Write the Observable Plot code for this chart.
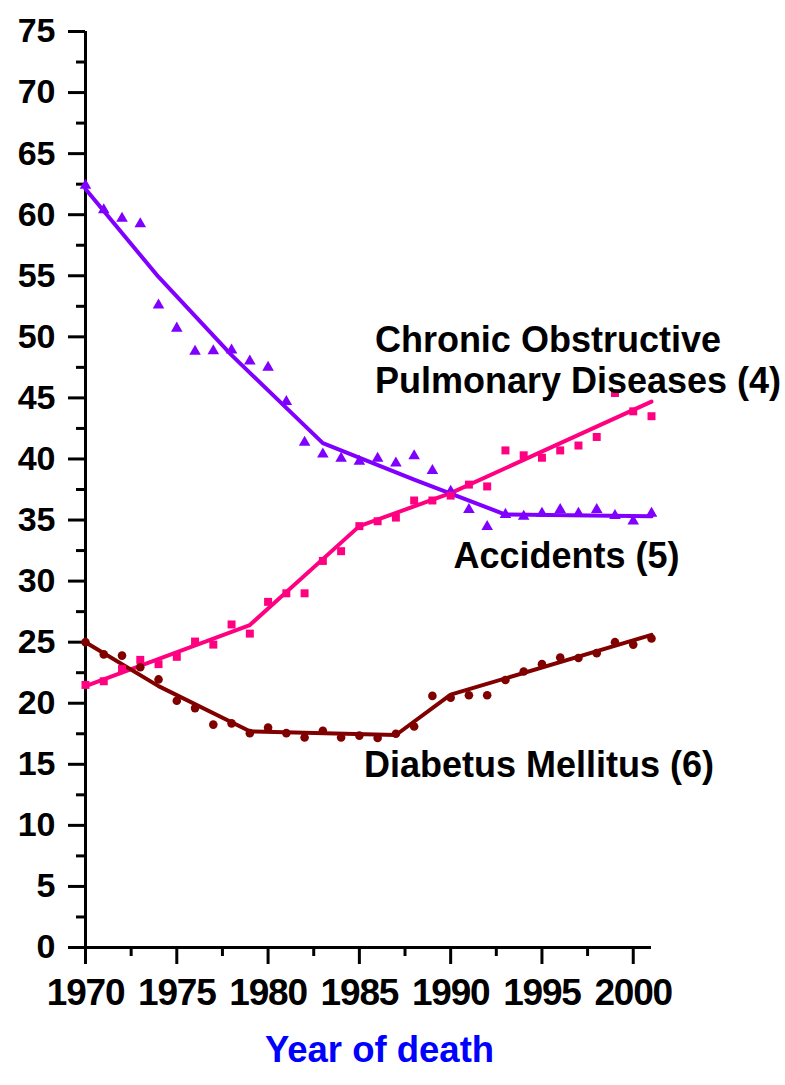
<!DOCTYPE html>
<html>
<head>
<meta charset="utf-8">
<script src="https://cdn.jsdelivr.net/npm/d3@7"></script>
<script src="https://cdn.jsdelivr.net/npm/@observablehq/plot@0.6"></script>
<style>
  html, body { margin: 0; padding: 0; background: #ffffff; }
  #chart svg { display: block; }
  #chart g[aria-label="x-axis tick label"] text { font-size: 37px; letter-spacing: -1.2px; }
</style>
</head>
<body>
<div id="chart"></div>
<script>
// ---- Data ----
const years = [1970, 1971, 1972, 1973, 1974, 1975, 1976, 1977, 1978, 1979,
               1980, 1981, 1982, 1983, 1984, 1985, 1986, 1987, 1988, 1989,
               1990, 1991, 1992, 1993, 1994, 1995, 1996, 1997, 1998, 1999,
               2000, 2001];

// Observed rates
const copdObserved = [62.4, 60.4, 59.7, 59.25, 52.6, 50.7, 48.8, 48.85, 48.9, 48.0,
                      47.5, 44.7, 41.35, 40.4, 40.05, 39.8, 40.05, 39.65, 40.25, 39.05,
                      37.35, 35.85, 34.45, 35.45, 35.3, 35.55, 35.85, 35.55, 35.85, 35.35,
                      34.9, 35.55];
const accidentsObserved = [21.5, 21.8, 22.8, 23.55, 23.2, 23.8, 25.05, 24.8, 26.45, 25.7,
                           28.3, 29.0, 29.0, 31.65, 32.45, 34.5, 34.9, 35.2, 36.6, 36.6,
                           37.0, 37.9, 37.75, 40.7, 40.3, 40.1, 40.7, 41.1, 41.8, 45.4,
                           43.9, 43.5];
const diabetesObserved = [25.0, 24.0, 23.9, 22.95, 21.95, 20.2, 19.6, 18.25, 18.35, 17.55,
                          18.0, 17.55, 17.2, 17.75, 17.2, 17.35, 17.15, 17.5, 18.1, 20.6,
                          20.45, 20.65, 20.65, 21.9, 22.6, 23.2, 23.75, 23.7, 24.1, 25.0,
                          24.8, 25.3];

// Fitted (joinpoint) trend lines, read at their vertices
const copdFitYears = [1970, 1974, 1978, 1983, 1988, 1993, 2001];
const copdFitValues = [62.1, 54.9, 48.5, 41.3, 38.3, 35.45, 35.3];
const accidentsFitYears = [1970, 1979, 1985, 1990, 2001];
const accidentsFitValues = [21.4, 26.4, 34.5, 37.2, 44.7];
const diabetesFitYears = [1970, 1974, 1979, 1987, 1990, 2001];
const diabetesFitValues = [25.0, 21.4, 17.7, 17.4, 20.7, 25.6];

// Axis ticks
const yMajorTicks = [0, 5, 10, 15, 20, 25, 30, 35, 40, 45, 50, 55, 60, 65, 70, 75];
const yMinorTicks = [2.5, 7.5, 12.5, 17.5, 22.5, 27.5, 32.5, 37.5, 42.5, 47.5, 52.5, 57.5, 62.5, 67.5, 72.5];
const xMajorTicks = [1970, 1975, 1980, 1985, 1990, 1995, 2000];
const xMinorTicks = [1972.5, 1977.5, 1982.5, 1987.5, 1992.5, 1997.5];

// Series labels (anchored in data units: year, rate)
const labelTexts = ["Chronic Obstructive", "Pulmonary Diseases (4)", "Accidents (5)", "Diabetus Mellitus (6)"];
const labelYears = [1985.85, 1985.85, 1990.15, 1985.25];
const labelValues = [49.7, 46.35, 32.0, 14.9];

const xAxisTitle = "Year of death";

// ---- Build tables ----
const toRows = (xs, vs) => xs.map((x, i) => ({year: x, value: vs[i]}));
const copdPts = toRows(years, copdObserved);
const accPts = toRows(years, accidentsObserved);
const diaPts = toRows(years, diabetesObserved);
const copdFit = toRows(copdFitYears, copdFitValues);
const accFit = toRows(accidentsFitYears, accidentsFitValues);
const diaFit = toRows(diabetesFitYears, diabetesFitValues);
const labels = labelTexts.map((t, i) => ({text: t, year: labelYears[i], value: labelValues[i]}));

const PURPLE = "#8000ff";
const PINK = "#ff0080";
const DARKRED = "#800000";

const chart = Plot.plot({
  width: 785,
  height: 1085,
  marginLeft: 85,
  marginRight: 134,
  marginTop: 31,
  marginBottom: 138,
  x: {domain: [1970, 2001]},
  y: {domain: [0, 75]},
  style: {
    fontFamily: "'Liberation Sans', Arial, sans-serif",
    fontSize: "34px",
    fontWeight: "bold",
    color: "black",
    background: "white",
    overflow: "visible"
  },
  marks: [
    // axes
    Plot.axisY(yMinorTicks, {tickSize: 9, tickFormat: () => "", strokeWidth: 3, label: null}),
    Plot.axisY(yMajorTicks, {tickSize: 17, tickPadding: 13, strokeWidth: 3, tickFormat: d3.format("d"), label: null}),
    Plot.axisX(xMinorTicks, {tickSize: 9, tickFormat: () => "", strokeWidth: 3, label: null}),
    Plot.axisX(xMajorTicks, {tickSize: 17, tickPadding: 14, strokeWidth: 3, tickFormat: d3.format("d"), label: null}),
    Plot.ruleX([1970], {stroke: "black", strokeWidth: 3}),
    Plot.ruleY([0], {stroke: "black", strokeWidth: 3}),

    // fitted trend lines
    Plot.line(copdFit, {x: "year", y: "value", stroke: PURPLE, strokeWidth: 4}),
    Plot.line(accFit, {x: "year", y: "value", stroke: PINK, strokeWidth: 4}),
    Plot.line(diaFit, {x: "year", y: "value", stroke: DARKRED, strokeWidth: 4}),

    // observed points
    Plot.dot(copdPts, {x: "year", y: "value", symbol: "triangle", r: 4.3, fill: PURPLE}),
    Plot.dot(accPts, {x: "year", y: "value", symbol: "square", r: 4.5, fill: PINK}),
    Plot.dot(diaPts, {x: "year", y: "value", symbol: "circle", r: 4.3, fill: DARKRED}),

    // series labels
    Plot.text(labels, {x: "year", y: "value", text: "text", textAnchor: "start", fontSize: 36, fontWeight: "bold", fill: "black"}),

    // x axis title
    Plot.text([xAxisTitle], {text: d => d, frameAnchor: "bottom", dy: 114, dx: 11, fontSize: 36.5, fontWeight: "bold", fill: "#0000ff"})
  ]
});

document.getElementById("chart").appendChild(chart);
</script>
</body>
</html>
